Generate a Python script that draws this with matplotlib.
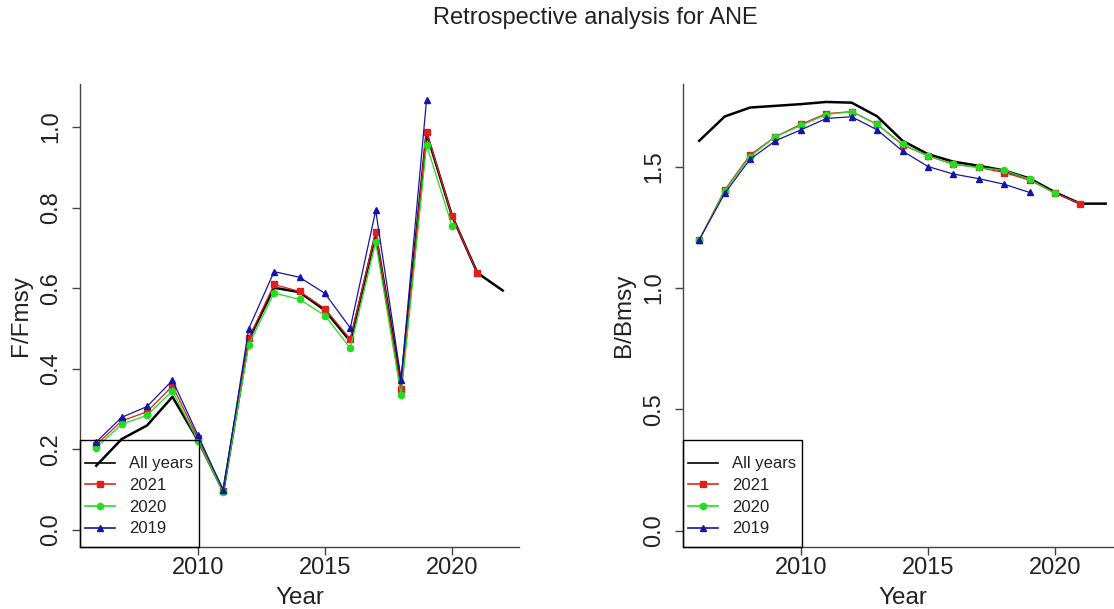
import numpy as np
import matplotlib.pyplot as plt
from matplotlib.patches import Rectangle
from matplotlib.ticker import FormatStrFormatter

plt.rcParams['font.family'] = ['Liberation Sans', 'DejaVu Sans']

# Data
years = list(range(2006, 2023))
labels = ['All years', '2021', '2020', '2019']

f_all = [0.159, 0.225, 0.259, 0.330, 0.222, 0.096, 0.472, 0.601, 0.590,
         0.545, 0.468, 0.735, 0.360, 0.985, 0.780, 0.638, 0.594]
f_2021 = [0.211, 0.270, 0.293, 0.357, 0.228, 0.095, 0.475, 0.609, 0.592,
          0.549, 0.473, 0.739, 0.349, 0.989, 0.780, 0.638]
f_2020 = [0.204, 0.262, 0.284, 0.345, 0.221, 0.093, 0.459, 0.588, 0.572,
          0.532, 0.451, 0.714, 0.334, 0.956, 0.755]
f_2019 = [0.218, 0.279, 0.306, 0.371, 0.235, 0.098, 0.499, 0.641, 0.627,
          0.587, 0.501, 0.793, 0.373, 1.067]

b_all = [1.607, 1.707, 1.744, 1.751, 1.758, 1.767, 1.764, 1.708, 1.607,
         1.552, 1.521, 1.504, 1.485, 1.452, 1.395, 1.348, 1.348]
b_2021 = [1.199, 1.404, 1.549, 1.624, 1.675, 1.719, 1.727, 1.675, 1.590,
          1.545, 1.510, 1.497, 1.476, 1.445, 1.392, 1.348]
b_2020 = [1.199, 1.400, 1.542, 1.624, 1.670, 1.715, 1.727, 1.675, 1.593,
          1.545, 1.511, 1.497, 1.486, 1.449, 1.390]
b_2019 = [1.199, 1.390, 1.531, 1.607, 1.652, 1.699, 1.706, 1.652, 1.565,
          1.501, 1.470, 1.451, 1.428, 1.394]

red = '#e02020'
green = '#22dd22'
blue = '#1414a8'
axcol = '#444444'
txtcol = '#222222'

W, H = 1114, 609
fig = plt.figure(figsize=(W / 100, H / 100), dpi=100)
ax1 = fig.add_axes([80 / W, 1 - 547 / H, 439 / W, 463 / H])
ax2 = fig.add_axes([683 / W, 1 - 547 / H, 439 / W, 463 / H])


def draw(ax, all_vals, r21, r20, r19, ylim, yticks, ylabel):
    ax.plot(years, all_vals, color='black', lw=1.8, zorder=2, label=labels[0])
    ax.plot(years[:len(r21)], r21, color=red, lw=0.9, marker='s', ms=4.5,
            zorder=3, label=labels[1])
    ax.plot(years[:len(r20)], r20, color=green, lw=0.9, marker='o', ms=4.5,
            zorder=4, label=labels[2])
    ax.plot(years[:len(r19)], r19, color=blue, lw=0.9, marker='^', ms=4.5,
            zorder=5, label=labels[3])

    ax.set_xlim(2005.36, 2022.64)
    ax.set_ylim(*ylim)
    ax.set_xticks([2010, 2015, 2020])
    ax.set_yticks(yticks)
    ax.yaxis.set_major_formatter(FormatStrFormatter('%.1f'))

    for s in ['top', 'right']:
        ax.spines[s].set_visible(False)
    for s in ['left', 'bottom']:
        ax.spines[s].set_color(axcol)
        ax.spines[s].set_linewidth(1.0)

    ax.tick_params(axis='both', length=6, width=1.0, color=axcol,
                   labelsize=17, labelcolor=txtcol)
    ax.tick_params(axis='x', pad=1)
    ax.tick_params(axis='y', pad=7)
    for t in ax.get_yticklabels():
        t.set_rotation(90)
        t.set_va('center')

    ax.set_xlabel('Year', fontsize=17.5, color=txtcol, labelpad=6)
    ax.set_ylabel(ylabel, fontsize=17.5, color=txtcol, labelpad=6)

    # legend entries without frame, box drawn as in R (transparent, black)
    leg = ax.legend(loc='lower left', bbox_to_anchor=(0, 0.012),
                    borderaxespad=0, fontsize=12, frameon=False,
                    handlelength=1.8, handletextpad=0.85, borderpad=0.3,
                    labelspacing=0.4)
    for t in leg.get_texts():
        t.set_color(txtcol)
    for h in leg.get_lines():
        h.set_linewidth(1.2)
    ax.add_patch(Rectangle((0, 0), 119 / 439, 107 / 463,
                           transform=ax.transAxes, fill=False,
                           edgecolor='black', lw=1.0, clip_on=False,
                           zorder=6))


draw(ax1, f_all, f_2021, f_2020, f_2019, (-0.043, 1.107),
     [0.0, 0.2, 0.4, 0.6, 0.8, 1.0], 'F/Fmsy')
draw(ax2, b_all, b_2021, b_2020, b_2019, (-0.067, 1.841),
     [0.0, 0.5, 1.0, 1.5], 'B/Bmsy')

fig.text(595 / W, 1 - 18 / H, 'Retrospective analysis for ANE',
         ha='center', va='center', fontsize=17, color=txtcol)

fig.savefig('out.png', dpi=100)
